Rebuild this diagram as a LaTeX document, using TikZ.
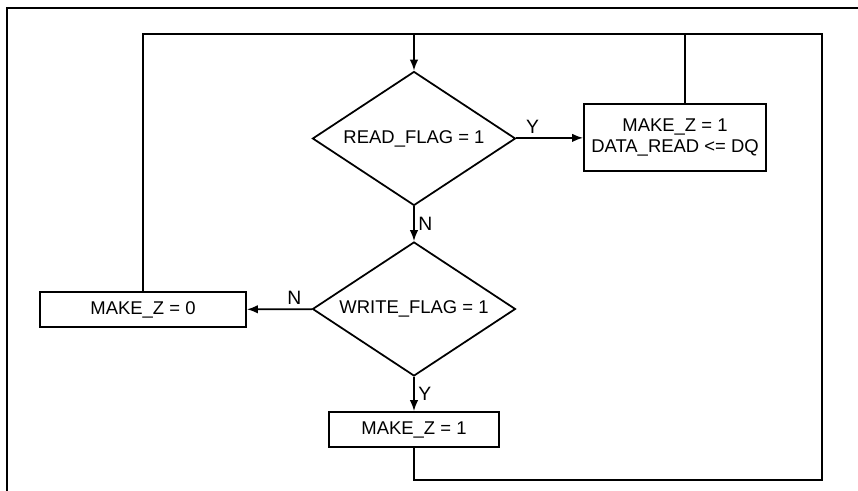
\documentclass[tikz,border=0pt]{standalone}
\usepackage{fontspec}
\setmainfont{Liberation Sans}
\usepackage{tikz}
\usetikzlibrary{arrows.meta,shapes.geometric}
\tikzset{
  flstage/.style={
    draw,
    line width=1pt,
    align=center,
    inner sep=2pt,
    font=\fontsize{10.5}{12.5}\selectfont
  },
  flbox/.style={flstage,rectangle},
  fldecide/.style={flstage,diamond,inner sep=0pt,shape aspect=1.5,
                   minimum width=40.6mm,minimum height=26.8mm},
  flflow/.style={-{Latex[length=2.2mm,width=1.7mm]},line width=1pt},
  flloop/.style={line width=1pt},
  fllabel/.style={font=\fontsize{11}{13}\selectfont,inner sep=2pt},
  flframe/.style={line width=1.3pt}
}
\begin{document}
\begin{tikzpicture}[x=1cm,y=1cm]
  \useasboundingbox (0,0) rectangle (17.16,-9.82);
  \draw[flframe] (0.14,-9.82) -- (0.14,-0.16) -- (17.16,-0.16);

  \node[fldecide] (rdflag) at (8.28,-2.77) {READ\_FLAG = 1};
  \node[fldecide] (wrflag) at (8.28,-6.18) {WRITE\_FLAG = 1};
  \node[flbox,minimum width=36.4mm,minimum height=13.4mm] (rdset) at (13.5,-2.75)
    {MAKE\_Z = 1\\DATA\_READ <= DQ};
  \node[flbox,minimum width=41.2mm,minimum height=7mm] (zclear) at (2.86,-6.19)
    {MAKE\_Z = 0};
  \node[flbox,minimum width=34mm,minimum height=7mm] (zset) at (8.28,-8.59)
    {MAKE\_Z = 1};

  \coordinate (join) at (8.28,-0.68);
  \coordinate (rtop) at (16.44,-0.68);
  \coordinate (rbot) at (16.44,-9.6);

  \draw[flflow] (rdflag) -- node[fllabel,pos=0.25,above] {Y} (rdset);
  \draw[flflow] (rdflag) -- node[fllabel,midway,right] {N} (wrflag);
  \draw[flflow] (wrflag) -- node[fllabel,pos=0.27,above] {N} (zclear);
  \draw[flflow] (wrflag) -- node[fllabel,midway,right] {Y} (zset);

  % loops back to the top
  \draw[flloop] (zclear.north) |- (join);
  \draw[flflow] (join) -- (rdflag);
  \draw[flloop] ([xshift=2mm]rdset.north) |- (rtop);
  \draw[flloop] (zset.south) |- (rbot) -- (rtop) -- (join);
\end{tikzpicture}
\end{document}
